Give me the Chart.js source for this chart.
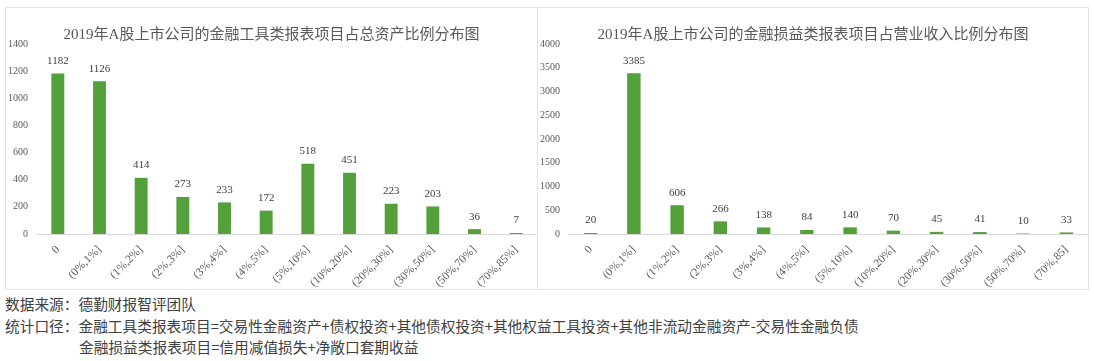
<!DOCTYPE html>
<html>
<head>
<meta charset="utf-8">
<script src="https://cdn.jsdelivr.net/npm/chart.js@4/dist/chart.umd.min.js"></script>
<style>
  body { margin: 0; background: #fff; width: 1094px; height: 361px; position: relative; overflow: hidden; }
  .panel { position: absolute; top: 7px; height: 283px; border: 1px solid #e3e3e3; box-sizing: border-box; }
  .panel canvas { position: absolute; left: 0; top: 0; }
  .note { position: absolute; left: 5px; font-family: "Noto Sans CJK SC", sans-serif; font-size: 14.7px; color: #404040; white-space: nowrap; line-height: 18px; }
</style>
</head>
<body>
<div class="panel" id="leftPanel" style="left:5px;width:533px;"><canvas id="assetChart"></canvas></div>
<div class="panel" id="rightPanel" style="left:537px;width:552px;"><canvas id="incomeChart"></canvas></div>
<div class="note" style="top:295px;">数据来源：德勤财报智评团队</div>
<div class="note" style="top:317px;">统计口径：金融工具类报表项目=交易性金融资产+债权投资+其他债权投资+其他权益工具投资+其他非流动金融资产-交易性金融负债</div>
<div class="note" style="top:338px;left:79px;">金融损益类报表项目=信用减值损失+净敞口套期收益</div>
<script>
// ranges of the ratio, same for both charts except the last label of the right one
const assetCategories = ['0', '(0%,1%]', '(1%,2%]', '(2%,3%]', '(3%,4%]', '(4%,5%]', '(5%,10%]', '(10%,20%]', '(20%,30%]', '(30%,50%]', '(50%,70%]', '(70%,85%]'];
const incomeCategories = ['0', '(0%,1%]', '(1%,2%]', '(2%,3%]', '(3%,4%]', '(4%,5%]', '(5%,10%]', '(10%,20%]', '(20%,30%]', '(30%,50%]', '(50%,70%]', '(70%,85]'];

const assetCounts = [1182, 1126, 414, 273, 233, 172, 518, 451, 223, 203, 36, 7];
const incomeCounts = [20, 3385, 606, 266, 138, 84, 140, 70, 45, 41, 10, 33];

const assetTitle = '2019年A股上市公司的金融工具类报表项目占总资产比例分布图';
const incomeTitle = '2019年A股上市公司的金融损益类报表项目占营业收入比例分布图';

const barColour = '#54a03a';
const textColour = '#595959';
const serif = '"Liberation Serif", "Noto Sans CJK SC", serif';

// little plugin to write the count above each bar
const valueLabels = {
    id: 'valueLabels',
    afterDatasetsDraw(chart) {
        const ctx = chart.ctx;
        ctx.save();
        ctx.font = '11px ' + serif;
        ctx.fillStyle = '#404040';
        ctx.textAlign = 'center';
        ctx.textBaseline = 'bottom';
        chart.getDatasetMeta(0).data.forEach((bar, i) => {
            ctx.fillText(chart.data.datasets[0].data[i], bar.x, bar.y - 7);
        });
        ctx.restore();
    }
};

function drawChart(id, panelId, labels, values, title, maxY, step) {
    const panel = document.getElementById(panelId);
    const canvas = document.getElementById(id);
    canvas.width = panel.clientWidth;
    canvas.height = panel.clientHeight;
    return new Chart(canvas.getContext('2d'), {
        type: 'bar',
        data: {
            labels: labels,
            datasets: [{
                data: values,
                backgroundColor: barColour,
                barPercentage: 0.62,
                categoryPercentage: 0.5
            }]
        },
        options: {
            responsive: false,
            animation: false,
            layout: { padding: 0 },
            plugins: {
                legend: { display: false },
                tooltip: { enabled: false },
                title: {
                    display: true,
                    text: title,
                    color: textColour,
                    font: { family: serif, size: 15, weight: 'normal' },
                    padding: { top: 18, bottom: 0 }
                }
            },
            scales: {
                x: {
                    grid: { display: false, drawTicks: false },
                    border: { color: '#d9d9d9' },
                    ticks: {
                        color: textColour,
                        font: { family: serif, size: 11.5 },
                        minRotation: 45,
                        maxRotation: 45,
                        padding: 9,
                        autoSkip: false
                    },
                    afterFit(scale) {
                        scale.height = 55;
                        scale.paddingRight = 0;
                    }
                },
                y: {
                    min: 0,
                    max: maxY,
                    grid: { display: false, drawTicks: false },
                    border: { display: false },
                    ticks: {
                        stepSize: step,
                        color: textColour,
                        font: { family: serif, size: 10 },
                        padding: 9,
                        callback: value => String(value)
                    },
                    afterFit(scale) {
                        scale.width = 31;
                    }
                }
            }
        },
        plugins: [valueLabels]
    });
}

drawChart('assetChart', 'leftPanel', assetCategories, assetCounts, assetTitle, 1400, 200);
drawChart('incomeChart', 'rightPanel', incomeCategories, incomeCounts, incomeTitle, 4000, 500);
</script>
</body>
</html>
